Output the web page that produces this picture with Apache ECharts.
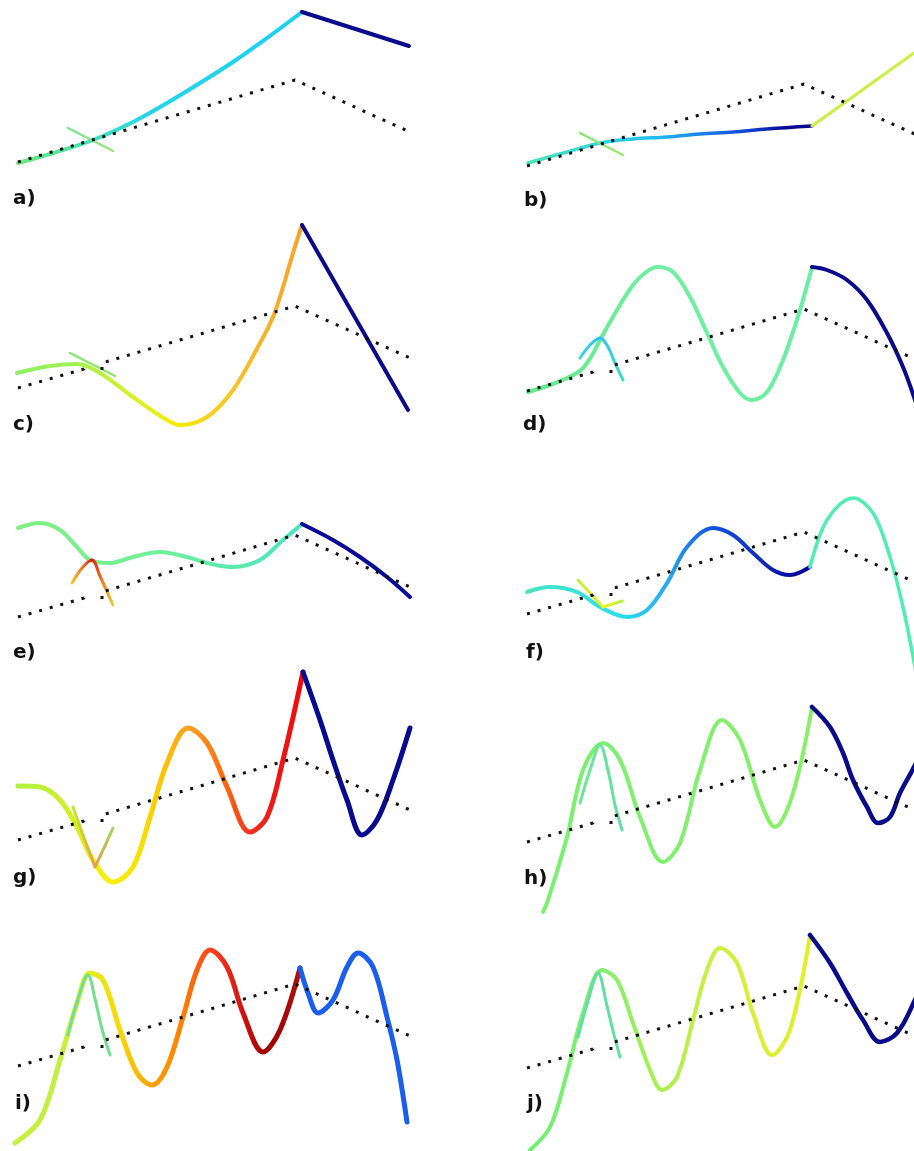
<!DOCTYPE html>
<html>
<head>
<meta charset="utf-8">
<script src="https://cdn.jsdelivr.net/npm/echarts@6/dist/echarts.min.js"></script>
<style>
html,body{margin:0;padding:0;background:#fff;}
#chart{width:914px;height:1151px;}
</style>
</head>
<body>
<div id="chart"></div>
<script>
// ---------- DATA (panel-local units: x to the right, y downward) ----------
const panelLabels = ['a)','b)','c)','d)','e)','f)','g)','h)','i)','j)'];

// dotted reference profile
const dottedFull = [[18,162],[295,80],[410,132]];
const dottedLeftPart = [[18,162],[84,143],[84,136]];
const dottedRightPart = [[102,144],[102,137],[295,80],[410,132]];

// a)
const aRise = [[18,163],[50,154],[93,140],[133,122],[167,103],[200,83],[233,62],[267,38],[302,12]];
const aFall = [[302,12],[409,46]];
const aCross = [[68,128],[113,151]];
// b)
const bRise = [[19,159],[58,148],[91,139],[124,135],[158,133],[191,130],[224,128],[258,125],[303,122]];
const bFall = [[303,122],[405,49],[420,38]];
const bCross = [[71,129],[114,151]];
// c)
const cRise = [[17,147],[50,140],[77,138],[100,147],[133,171],[167,194],[180,199],[207,191],[233,164],[260,117],[273,91],[283,61],[293,27],[302,-1]];
const cFall = [[302,-1],[408,184]];
const cCross = [[70,127],[115,150]];
// d)
const dRise = [[19,163],[41,156],[58,149],[72,141],[82,128],[91,111],[108,81],[124,56],[136,44],[148,38],[164,43],[181,68],[198,104],[214,138],[231,164],[243,171],[258,163],[274,131],[291,81],[303,38]];
const dFall = [[303,38],[318,41],[338,51],[358,71],[378,104],[394,138],[405,168],[420,215]];
const dCross = [[71,129],[81,116],[91,109],[99,118],[106,134],[114,151]];
// e)
const eRise = [[18,73],[40,68],[60,75],[77,92],[90,105],[110,108],[133,102],[160,97],[187,102],[207,108],[233,112],[260,105],[283,85],[302,69]];
const eFall = [[302,69],[333,85],[360,102],[387,122],[410,142]];
const eCross = [[72,128],[82,113],[92,105],[100,121],[113,150]];
// f)
const fRise = [[18,140],[41,135],[68,140],[91,155],[118,165],[138,158],[158,131],[178,95],[204,76],[224,83],[244,101],[264,118],[281,123],[301,115]];
const fFall = [[301,115],[318,68],[344,46],[364,61],[381,105],[394,155],[405,210],[412,250]];
const fCross = [[69,128],[94,155],[113,149]];
// g)
const gRise = [[18,108],[40,109],[60,122],[77,149],[93,182],[113,204],[133,189],[150,139],[167,85],[188,50],[207,65],[227,109],[250,154],[267,139],[283,82],[303,-6]];
const gFall = [[303,-6],[320,42],[333,82],[347,122],[362,157],[377,142],[393,102],[410,50]];
const gCross = [[73,129],[84,160],[95,189],[104,170],[113,150]];
// h)
const hRise = [[34,232],[39,220],[58,157],[74,90],[94,63],[111,80],[131,137],[154,182],[171,163],[191,90],[213,40],[231,60],[251,120],[266,147],[284,113],[303,27]];
const hFall = [[303,27],[321,47],[334,73],[344,100],[358,127],[369,143],[381,137],[391,113],[405,87],[420,55]];
const hCross = [[71,123],[81,90],[91,65],[100,95],[106,125],[113,150]];
// i)
const iRise = [[15,239],[40,216],[60,156],[77,99],[90,69],[103,76],[120,126],[137,169],[152,181],[167,163],[183,113],[197,66],[210,46],[227,63],[243,109],[263,148],[280,126],[300,64]];
const iFall = [[300,64],[308,89],[318,109],[333,96],[347,63],[358,49],[373,63],[387,113],[397,156],[407,218]];
const iCross = [[68,131],[78,95],[88,71],[95,95],[102,125],[110,151]];
// j)
const jRise = [[21,244],[41,221],[58,167],[74,107],[93,64],[108,74],[124,117],[141,164],[153,184],[168,171],[184,114],[198,64],[211,42],[228,57],[244,107],[263,149],[281,124],[301,29]];
const jFall = [[301,29],[321,57],[338,87],[354,114],[371,136],[388,127],[405,96],[420,60]];
const jCross = [[69,131],[79,95],[89,67],[98,100],[104,125],[111,151]];

// ---------- LAYOUT / STYLE ----------
const NAVY = '#0a0a8c';
const layout = [
  {col:0,   top:0,   lx:13,  lb:205, notch:false},
  {col:509, top:4,   lx:524, lb:207, notch:false},
  {col:0,   top:226, lx:13,  lb:431, notch:true},
  {col:509, top:229, lx:523, lb:431, notch:true},
  {col:0,   top:455, lx:13,  lb:659, notch:true},
  {col:509, top:452, lx:526, lb:659, notch:true},
  {col:0,   top:678, lx:13,  lb:884, notch:true},
  {col:509, top:680, lx:524, lb:885, notch:true},
  {col:0,   top:904, lx:15,  lb:1110, notch:true},
  {col:509, top:906, lx:527, lb:1110, notch:true}
];

const curves = [
  [ {d:aRise, w:4, s:true, c:[[18,'#72e87c'],[90,'#45e3b5'],[150,'#22d6ea'],[302,'#18d0f2']]},
    {d:aFall, w:4, s:false, c:[[0,NAVY]]},
    {d:aCross, w:2.5, s:false, c:[[68,'#78e49a'],[113,'#98e878']]} ],
  [ {d:bRise, w:3.5, s:true, c:[[19,'#4ee4b4'],[100,'#2ed8e0'],[150,'#22b8f0'],[200,'#1a78e8'],[240,'#1040d0'],[274,'#0a0a98'],[303,'#080890']]},
    {d:bFall, w:3, s:false, c:[[0,'#c8f040']]},
    {d:bCross, w:2.5, s:false, c:[[71,'#88e278'],[114,'#a0e870']]} ],
  [ {d:cRise, w:4, s:true, c:[[17,'#8cf064'],[77,'#a4f050'],[133,'#d8f028'],[175,'#f4ec00'],[210,'#f8d020'],[250,'#f8b828'],[302,'#f8a028']]},
    {d:cFall, w:4, s:false, c:[[0,NAVY]]},
    {d:cCross, w:2.5, s:false, c:[[70,'#80e870'],[115,'#90e860']]} ],
  [ {d:dRise, w:4, s:true, c:[[19,'#64e88a'],[150,'#70f0a0'],[303,'#68eea4']]},
    {d:dFall, w:4, s:true, c:[[0,NAVY]]},
    {d:dCross, w:3, s:true, c:[[71,'#40d8d0'],[91,'#28c0f0'],[114,'#40e0c0']]} ],
  [ {d:eRise, w:4, s:true, c:[[18,'#80f080'],[150,'#70f098'],[302,'#48e4c0']]},
    {d:eFall, w:4, s:true, c:[[0,'#0a0a98']]},
    {d:eCross, w:3, s:true, c:[[72,'#f0d828'],[84,'#f07020'],[92,'#d81818'],[102,'#f08020'],[113,'#d8e840']]} ],
  [ {d:fRise, w:4, s:true, c:[[18,'#48e6c0'],[90,'#32e0e0'],[118,'#28dcf0'],[158,'#28a8f0'],[204,'#1050e0'],[244,'#1030c4'],[281,'#0a0aa0'],[301,'#0808a0']]},
    {d:fFall, w:3.5, s:true, c:[[0,'#50eeb0']]},
    {d:fCross, w:3, s:false, c:[[69,'#b8f040'],[94,'#f0f020'],[113,'#b0f048']]} ],
  [ {d:gRise, w:5, s:true, c:[[18,'#b0f040'],[60,'#c8f030'],[93,'#e8f010'],[113,'#f8f000'],[140,'#f8e000'],[165,'#ffc000'],[188,'#ffa020'],[220,'#ff7010'],[250,'#f03020'],[270,'#f01818'],[303,'#f00808']]},
    {d:gFall, w:5, s:true, c:[[0,'#0a0a90']]},
    {d:gCross, w:3, s:false, c:[[73,'#b8f040'],[95,'#e8a040'],[113,'#90e060']]} ],
  [ {d:hRise, w:4, s:true, c:[[34,'#78f070'],[303,'#88f068']]},
    {d:hFall, w:4.5, s:true, c:[[0,NAVY]]},
    {d:hCross, w:3, s:true, c:[[71,'#68ea98'],[113,'#60e0a0']]} ],
  [ {d:iRise, w:5, s:true, c:[[15,'#c8f040'],[60,'#c0f040'],[90,'#e0f020'],[120,'#f8d800'],[152,'#ffa000'],[183,'#ff8000'],[210,'#ff4020'],[243,'#d01010'],[263,'#a00000'],[300,'#b01010']]},
    {d:iFall, w:5, s:true, c:[[0,'#1a5ef0']]},
    {d:iCross, w:3, s:true, c:[[68,'#70e090'],[110,'#70e090']]} ],
  [ {d:jRise, w:4, s:true, c:[[21,'#70f070'],[93,'#80f070'],[150,'#a8f050'],[200,'#c8f040'],[250,'#d8f030'],[301,'#e0f020']]},
    {d:jFall, w:4.5, s:true, c:[[0,NAVY]]},
    {d:jCross, w:3, s:true, c:[[69,'#60e0a0'],[111,'#60e0a0']]} ]
];

function gradient(data, stops) {
  if (stops.length === 1) return stops[0][1];
  const xs = data.map(p => p[0]);
  const mn = Math.min(...xs), mx = Math.max(...xs);
  const cs = stops.map(([x, c]) => ({offset: Math.max(0, Math.min(1, (x - mn) / (mx - mn))), color: c}));
  return new echarts.graphic.LinearGradient(0, 0, 1, 0, cs);
}

const grids = [], xAxes = [], yAxes = [], series = [], titles = [];
layout.forEach((p, i) => {
  grids.push({left: p.col, top: p.top - 40, width: 420, height: 290, containLabel: false, outerBoundsMode: 'none'});
  xAxes.push({type: 'value', gridIndex: i, min: 0, max: 420, show: false});
  yAxes.push({type: 'value', gridIndex: i, min: -40, max: 250, inverse: true, show: false});
  curves[i].forEach(cv => {
    series.push({
      type: 'line', xAxisIndex: i, yAxisIndex: i, data: cv.d, smooth: cv.s ? 0.35 : false,
      symbol: 'none', clip: false, z: 2, silent: true,
      lineStyle: {width: cv.w, cap: 'round', join: 'round', color: gradient(cv.d, cv.c)}
    });
  });
  const dotted = p.notch ? [dottedLeftPart, dottedRightPart] : [dottedFull];
  dotted.forEach(dd => {
    series.push({
      type: 'line', xAxisIndex: i, yAxisIndex: i, data: dd, symbol: 'none', clip: false, z: 3, silent: true,
      lineStyle: {width: 3, color: '#111', type: [3, 8], cap: 'butt'}
    });
  });
  titles.push({
    text: panelLabels[i], left: p.lx, top: p.lb - 16, padding: 0,
    textStyle: {fontFamily: 'DejaVu Sans', fontWeight: 'bold', fontSize: 20, lineHeight: 20, color: '#111'}
  });
});

const chart = echarts.init(document.getElementById('chart'), null, {renderer: 'canvas'});
chart.setOption({
  animation: false,
  backgroundColor: '#fff',
  title: titles,
  grid: grids,
  xAxis: xAxes,
  yAxis: yAxes,
  series: series
});
</script>
</body>
</html>
